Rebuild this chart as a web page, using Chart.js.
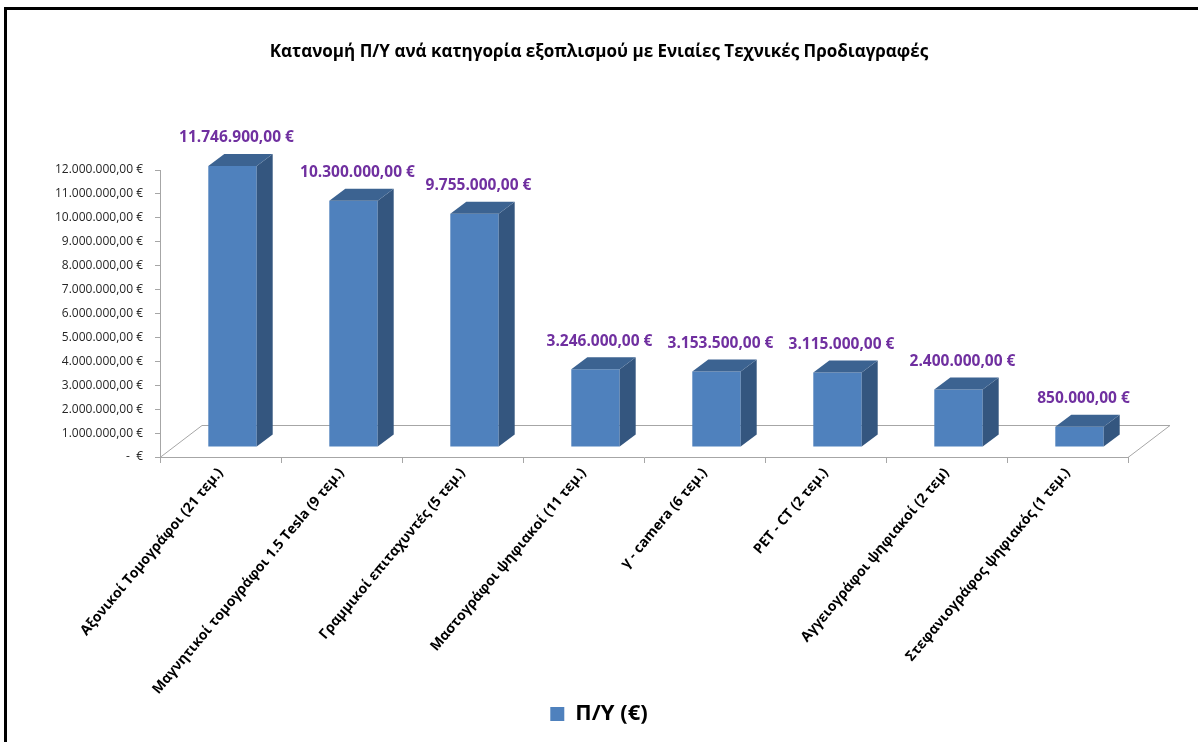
<!DOCTYPE html>
<html>
<head>
<meta charset="utf-8">
<script src="https://cdn.jsdelivr.net/npm/chart.js@4.4.0/dist/chart.umd.min.js"></script>
<style>
  html, body { margin: 0; padding: 0; background: #fff; }
  #wrap { position: relative; width: 1198px; height: 742px; }
  #frame { position: absolute; left: 4px; top: 7px; right: 0; bottom: 0;
           border-left: 3px solid #000; border-top: 3px solid #000; pointer-events: none; }
</style>
</head>
<body>
<div id="wrap">
  <canvas id="grafico" width="1198" height="742"></canvas>
  <div id="frame"></div>
</div>
<script>
// datos
const categorias = [
    'Αξονικοί Τομογράφοι (21 τεμ.)',
    'Μαγνητικοί τομογράφοι 1.5 Tesla (9 τεμ.)',
    'Γραμμικοί επιταχυντές (5 τεμ.)',
    'Μαστογράφοι ψηφιακοί (11 τεμ.)',
    'γ - camera (6 τεμ.)',
    'PET - CT (2 τεμ.)',
    'Αγγειογράφοι ψηφιακοί (2 τεμ)',
    'Στεφανιογράφος ψηφιακός (1 τεμ.)'
];
const valores = [11746900, 10300000, 9755000, 3246000, 3153500, 3115000, 2400000, 850000];
const ejeMin = 0;
const ejeMax = 12000000;
const ejePaso = 1000000;
const titulo = 'Κατανομή Π/Υ ανά κατηγορία εξοπλισμού με Ενιαίες Τεχνικές Προδιαγραφές';
const serie = 'Π/Υ (€)';

const fuente = "'Open Sans', 'DejaVu Sans', sans-serif";

function formatoEuro(v) {
    if (v === 0) return '-  €';
    const entero = Math.round(v).toString().replace(/\B(?=(\d{3})+(?!\d))/g, '.');
    return entero + ',00 €';
}

// efecto 3d: desplazamiento de las barras y profundidad
const barraDx = 12, barraDy = -10;
const fondoDx = 16, fondoDy = -12;
const pisoDx = 42, pisoDy = -32;

const plugin3d = {
    id: 'plugin3d',
    beforeDatasetsDraw(chart) {
        const ctx = chart.ctx;
        const a = chart.chartArea;
        // piso
        ctx.save();
        ctx.strokeStyle = '#a6a6a6';
        ctx.lineWidth = 1;
        ctx.beginPath();
        ctx.moveTo(a.left, a.bottom + 0.5);
        ctx.lineTo(a.left + pisoDx, a.bottom + pisoDy + 0.5);
        ctx.lineTo(a.right + pisoDx, a.bottom + pisoDy + 0.5);
        ctx.lineTo(a.right, a.bottom + 0.5);
        ctx.stroke();
        ctx.restore();
        ctx.save();
        ctx.translate(barraDx, barraDy);
    },
    afterDatasetsDraw(chart) {
        const ctx = chart.ctx;
        const meta = chart.getDatasetMeta(0);
        meta.data.forEach(bar => {
            const izq = bar.x - bar.width / 2;
            const der = bar.x + bar.width / 2;
            const arriba = bar.y;
            const abajo = bar.base;
            // lado
            ctx.fillStyle = '#34567f';
            ctx.beginPath();
            ctx.moveTo(der, abajo);
            ctx.lineTo(der + fondoDx, abajo + fondoDy);
            ctx.lineTo(der + fondoDx, arriba + fondoDy);
            ctx.lineTo(der, arriba);
            ctx.closePath();
            ctx.fill();
            // tapa
            ctx.fillStyle = '#3c6391';
            ctx.beginPath();
            ctx.moveTo(izq, arriba);
            ctx.lineTo(izq + fondoDx, arriba + fondoDy);
            ctx.lineTo(der + fondoDx, arriba + fondoDy);
            ctx.lineTo(der, arriba);
            ctx.closePath();
            ctx.fill();
        });
        ctx.restore();

        // etiquetas de valores
        ctx.save();
        ctx.fillStyle = '#7030a0';
        ctx.font = 'bold 15.5px ' + fuente;
        ctx.textAlign = 'center';
        ctx.textBaseline = 'middle';
        meta.data.forEach((bar, i) => {
            ctx.fillText(formatoEuro(valores[i]), bar.x + barraDx + fondoDx / 2 - 4, bar.y + barraDy - 28);
        });
        ctx.restore();
    }
};

const ctxGrafico = document.getElementById('grafico');

let grafico = new Chart(ctxGrafico, {
    type: 'bar',
    data: {
        labels: categorias,
        datasets: [{
            label: serie,
            data: valores,
            backgroundColor: '#4f81bd',
            borderWidth: 0,
            categoryPercentage: 1,
            barPercentage: 0.4,
            clip: false
        }]
    },
    options: {
        responsive: false,
        animation: false,
        devicePixelRatio: 1,
        layout: {
            padding: { left: 0, right: 0, top: 0, bottom: 7 }
        },
        plugins: {
            title: {
                display: true,
                text: titulo,
                color: '#000',
                font: { family: fuente, size: 17, weight: 'bold' },
                padding: { top: 42, bottom: 107.6 }
            },
            legend: {
                display: true,
                position: 'bottom',
                labels: {
                    color: '#000',
                    font: { family: fuente, size: 22, weight: 'bold' },
                    boxWidth: 14,
                    boxHeight: 14,
                    padding: 8
                }
            },
            tooltip: { enabled: false }
        },
        scales: {
            x: {
                grid: {
                    drawOnChartArea: false,
                    offset: true,
                    tickLength: 6,
                    color: '#a6a6a6'
                },
                border: { color: '#a6a6a6' },
                ticks: {
                    autoSkip: false,
                    minRotation: 50,
                    maxRotation: 50,
                    padding: 2,
                    color: '#000',
                    font: { family: fuente, size: 14, weight: 'bold' }
                },
                afterFit(scale) {
                    scale.height = 238;
                }
            },
            y: {
                min: ejeMin,
                max: ejeMax,
                grid: {
                    drawOnChartArea: false,
                    tickLength: 5,
                    color: '#a6a6a6'
                },
                border: { color: '#a6a6a6' },
                ticks: {
                    stepSize: ejePaso,
                    padding: 12,
                    color: '#262626',
                    font: { family: fuente, size: 12 },
                    callback: function(valor) {
                        return formatoEuro(valor);
                    }
                },
                afterFit(scale) {
                    scale.width = 160;
                }
            },
            margen: {
                type: 'linear',
                position: 'right',
                display: true,
                grid: { display: false },
                border: { display: false },
                ticks: { display: false },
                afterFit(scale) {
                    scale.width = 70;
                }
            }
        }
    },
    plugins: [plugin3d]
});
</script>
</body>
</html>
